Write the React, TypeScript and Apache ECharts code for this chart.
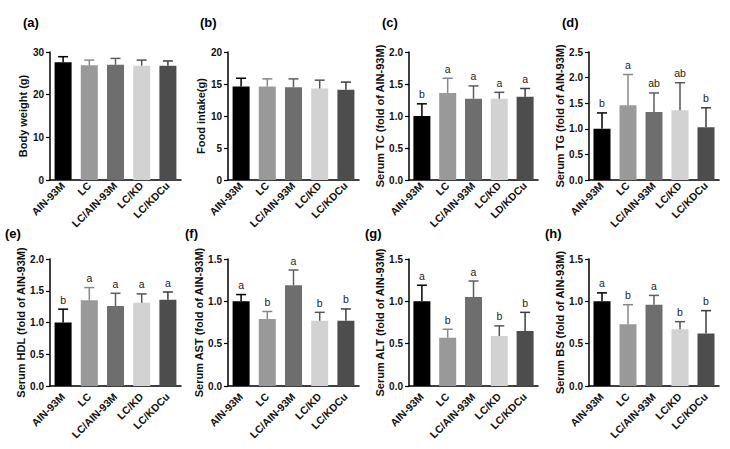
import React, { useEffect, useRef } from "react";
import * as echarts from "echarts";

const groups = ["AIN-93M", "LC", "LC/AIN-93M", "LC/KD", "LC/KDCu"];
const groupsC = ["AIN-93M", "LC", "LC/AIN-93M", "LC/KD", "LD/KDCu"];

const bodyWeightMean = [27.6, 26.9, 27.0, 26.8, 26.8];
const bodyWeightSD = [1.3, 1.2, 1.5, 1.3, 1.1];
const foodIntakeMean = [14.6, 14.6, 14.5, 14.3, 14.1];
const foodIntakeSD = [1.3, 1.2, 1.3, 1.3, 1.2];
const tcMean = [1.0, 1.36, 1.27, 1.27, 1.3];
const tcSD = [0.19, 0.23, 0.2, 0.1, 0.13];
const tcLetters = ["b", "a", "a", "a", "a"];
const tgMean = [1.0, 1.46, 1.33, 1.36, 1.03];
const tgSD = [0.31, 0.6, 0.37, 0.54, 0.38];
const tgLetters = ["b", "a", "ab", "ab", "b"];
const hdlMean = [1.0, 1.35, 1.26, 1.31, 1.36];
const hdlSD = [0.21, 0.2, 0.2, 0.14, 0.12];
const hdlLetters = ["b", "a", "a", "a", "a"];
const astMean = [1.0, 0.79, 1.19, 0.77, 0.77];
const astSD = [0.08, 0.09, 0.18, 0.1, 0.14];
const astLetters = ["a", "b", "a", "b", "b"];
const altMean = [1.0, 0.57, 1.05, 0.59, 0.65];
const altSD = [0.19, 0.1, 0.19, 0.12, 0.22];
const altLetters = ["a", "b", "a", "b", "b"];
const bsMean = [1.0, 0.73, 0.96, 0.67, 0.62];
const bsSD = [0.1, 0.23, 0.11, 0.09, 0.27];
const bsLetters = ["a", "b", "a", "b", "b"];

const barColors = ["#000000", "#999999", "#6e6e6e", "#d2d2d2", "#4d4d4d"];
const errColors = ["#000000", "#888888", "#5e5e5e", "#555555", "#3d3d3d"];

const FONT = "'Liberation Sans', Arial, sans-serif";

type Panel = {
  tag: string;
  title: string;
  cats: string[];
  mean: number[];
  sd: number[];
  letters: string[] | null;
  max: number;
  interval: number;
  decimals: number;
  grid: { left: number; top: number; width: number; height: number };
  nameGap: number;
  labelMargin: number;
  tagPos: [number, number];
};

const panels: Panel[] = [
  { tag: "(a)", title: "Body weight (g)", cats: groups, mean: bodyWeightMean, sd: bodyWeightSD, letters: null, max: 30, interval: 10, decimals: 0, grid: { left: 50, top: 52, width: 131, height: 128 }, nameGap: 18, labelMargin: 4, tagPos: [23, 24] },
  { tag: "(b)", title: "Food intake(g)", cats: groups, mean: foodIntakeMean, sd: foodIntakeSD, letters: null, max: 20, interval: 5, decimals: 0, grid: { left: 228, top: 52, width: 131, height: 128 }, nameGap: 20, labelMargin: 4, tagPos: [200, 24] },
  { tag: "(c)", title: "Serum TC (fold of AIN-93M)", cats: groupsC, mean: tcMean, sd: tcSD, letters: tcLetters, max: 2.0, interval: 0.5, decimals: 1, grid: { left: 409, top: 52, width: 129, height: 128 }, nameGap: 19, labelMargin: 4, tagPos: [382, 24] },
  { tag: "(d)", title: "Serum TG (fold of AIN-93M)", cats: groups, mean: tgMean, sd: tgSD, letters: tgLetters, max: 2.5, interval: 0.5, decimals: 1, grid: { left: 589, top: 52, width: 130, height: 128 }, nameGap: 19, labelMargin: 4, tagPos: [562, 24] },
  { tag: "(e)", title: "Serum HDL (fold of AIN-93M)", cats: groups, mean: hdlMean, sd: hdlSD, letters: hdlLetters, max: 2.0, interval: 0.5, decimals: 1, grid: { left: 50, top: 259, width: 131, height: 127 }, nameGap: 19, labelMargin: 9, tagPos: [5, 235] },
  { tag: "(f)", title: "Serum AST (fold of AIN-93M)", cats: groups, mean: astMean, sd: astSD, letters: astLetters, max: 1.5, interval: 0.5, decimals: 1, grid: { left: 228, top: 259, width: 131, height: 127 }, nameGap: 19, labelMargin: 9, tagPos: [185, 235] },
  { tag: "(g)", title: "Serum ALT (fold of AIN-93M)", cats: groups, mean: altMean, sd: altSD, letters: altLetters, max: 1.5, interval: 0.5, decimals: 1, grid: { left: 409, top: 259, width: 129, height: 127 }, nameGap: 19, labelMargin: 9, tagPos: [365, 235] },
  { tag: "(h)", title: "Serum BS (fold of AIN-93M)", cats: groups, mean: bsMean, sd: bsSD, letters: bsLetters, max: 1.5, interval: 0.5, decimals: 1, grid: { left: 589, top: 259, width: 130, height: 127 }, nameGap: 19, labelMargin: 9, tagPos: [545, 235] },
];

function buildOption() {
  const grid: any[] = [];
  const xAxis: any[] = [];
  const yAxis: any[] = [];
  const series: any[] = [];
  const graphic: any[] = [];

  panels.forEach((p, i) => {
    grid.push({ ...p.grid, containLabel: false });
    xAxis.push({
      type: "category",
      gridIndex: i,
      data: p.cats,
      axisLine: { lineStyle: { color: "#000", width: 1.5 } },
      axisTick: { alignWithLabel: true, length: 4, lineStyle: { color: "#000", width: 1.2 } },
      axisLabel: { interval: 0, rotate: 45, fontSize: 10.5, fontWeight: "bold", color: "#111", fontFamily: FONT, margin: p.labelMargin },
    });
    yAxis.push({
      type: "value",
      gridIndex: i,
      min: 0,
      max: p.max,
      interval: p.interval,
      name: p.title,
      nameLocation: "middle",
      nameGap: p.nameGap,
      nameRotate: 90,
      nameTextStyle: { fontSize: 11, fontWeight: "bold", color: "#111", fontFamily: FONT },
      axisLine: { show: true, lineStyle: { color: "#000", width: 1.5 } },
      axisTick: { show: true, length: 4, lineStyle: { color: "#000", width: 1.2 } },
      axisLabel: { fontSize: 10, fontWeight: "bold", color: "#111", fontFamily: FONT, margin: 6, formatter: (v: number) => v.toFixed(p.decimals) },
      splitLine: { show: false },
    });
    series.push({
      type: "bar",
      xAxisIndex: i,
      yAxisIndex: i,
      barWidth: 17,
      data: p.mean.map((v, k) => ({ value: v, itemStyle: { color: barColors[k] } })),
    });
    const letters = p.letters;
    series.push({
      type: "custom",
      xAxisIndex: i,
      yAxisIndex: i,
      z: 5,
      itemStyle: { color: "#222222" },
      data: p.mean.map((v, k) => [k, v, p.sd[k]]),
      renderItem: (params: any, api: any) => {
        const idx = params.dataIndex;
        const x = api.value(0);
        const m = api.value(1);
        const s = api.value(2);
        const p0 = api.coord([x, m]);
        const p1 = api.coord([x, m + s]);
        const c = errColors[idx];
        const children: any[] = [
          { type: "line", shape: { x1: p0[0], y1: p0[1], x2: p1[0], y2: p1[1] }, style: { stroke: c, lineWidth: 1.5 } },
          { type: "line", shape: { x1: p1[0] - 5, y1: p1[1], x2: p1[0] + 5, y2: p1[1] }, style: { stroke: c, lineWidth: 1.5 } },
        ];
        if (letters) {
          children.push({
            type: "text",
            x: p1[0],
            y: p1[1] - 4,
            style: { text: letters[idx], fontSize: 10.5, fontFamily: FONT, fill: "#222222", textFill: "#222222", align: "center", verticalAlign: "bottom" },
          });
        }
        return { type: "group", children };
      },
    });
    graphic.push({
      type: "text",
      left: p.tagPos[0],
      top: p.tagPos[1] - 8,
      style: { text: p.tag, fontSize: 13, fontWeight: "bold", fontFamily: FONT, fill: "#000" },
    });
  });

  return { animation: false, backgroundColor: "#ffffff", grid, xAxis, yAxis, series, graphic };
}

export default function App() {
  const ref = useRef<HTMLDivElement>(null);
  useEffect(() => {
    if (!ref.current) return;
    const chart = echarts.init(ref.current, undefined, { renderer: "svg" });
    chart.setOption(buildOption() as any);
    return () => chart.dispose();
  }, []);
  return (
    <div
      ref={ref}
      style={{ position: "absolute", left: 0, top: 0, width: 730, height: 449, background: "#fff" }}
    />
  );
}
